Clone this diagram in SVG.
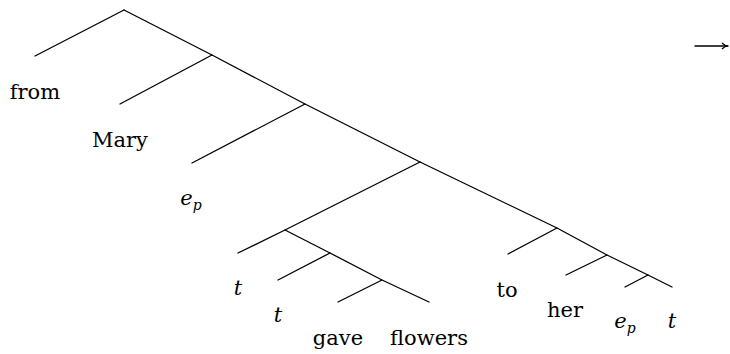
<svg xmlns="http://www.w3.org/2000/svg" width="730" height="354" viewBox="0 0 730 354">
<style>
.e{stroke:#000;stroke-width:1.3;fill:none;stroke-linecap:round}
.t{font-family:"DejaVu Serif","Liberation Serif",serif;font-size:21px;fill:#000;text-anchor:middle}
.i{font-style:italic}
.s{font-size:14px;font-style:italic}
</style>
<defs>
<marker id="ah" markerWidth="8" markerHeight="8" refX="7" refY="4" orient="auto" markerUnits="userSpaceOnUse">
<path d="M1,1 Q4,4 7,4 Q4,4 1,7" fill="none" stroke="#000" stroke-width="1.2"/>
</marker>
</defs>
<g id="connectors">
<polyline class="e" points="124,10 212,55 305,104 420,162 557,228 607,255 648,275 672,287"/>
<line class="e" x1="124" y1="10" x2="35" y2="56"/>
<line class="e" x1="212" y1="55" x2="120" y2="104"/>
<line class="e" x1="305" y1="104" x2="192" y2="163"/>
<polyline class="e" points="420,162 285,230 238,253"/>
<polyline class="e" points="285,230 330,253 382,280 429,302"/>
<line class="e" x1="330" y1="253" x2="278" y2="280"/>
<line class="e" x1="382" y1="280" x2="338" y2="302"/>
<line class="e" x1="557" y1="228" x2="508" y2="254"/>
<line class="e" x1="607" y1="255" x2="566" y2="275"/>
<line class="e" x1="648" y1="275" x2="625" y2="287"/>
<line class="e" x1="695" y1="46" x2="728" y2="46" marker-end="url(#ah)"/>
</g>
<g id="n-from"><text class="t" x="35" y="99">from</text></g>
<g id="n-mary"><text class="t" x="120" y="147">Mary</text></g>
<g id="n-ep1"><text class="t i" x="191" y="205">e<tspan class="s" dy="5">p</tspan></text></g>
<g id="n-t1"><text class="t i" x="238" y="295">t</text></g>
<g id="n-t2"><text class="t i" x="278" y="322">t</text></g>
<g id="n-gave"><text class="t" x="338" y="345">gave</text></g>
<g id="n-flowers"><text class="t" x="429" y="345">flowers</text></g>
<g id="n-to"><text class="t" x="507" y="297">to</text></g>
<g id="n-her"><text class="t" x="565" y="317">her</text></g>
<g id="n-ep2"><text class="t i" x="625" y="328">e<tspan class="s" dy="5">p</tspan></text></g>
<g id="n-t3"><text class="t i" x="672" y="328">t</text></g>
</svg>
